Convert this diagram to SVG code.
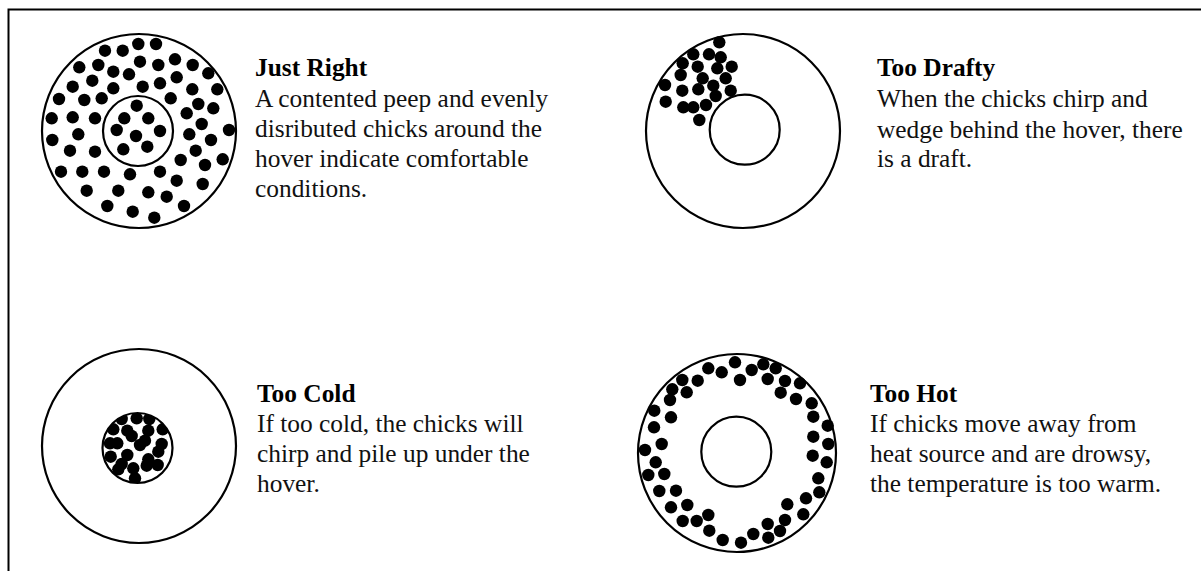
<svg xmlns="http://www.w3.org/2000/svg" width="1201" height="571" viewBox="0 0 1201 571">
<style>
.ring{fill:none;stroke:#000;stroke-width:2.2}
.dot{fill:#000}
.h{font-family:"Liberation Serif","Times New Roman",serif;font-size:25.4px;font-weight:bold;fill:#000}
.t{font-family:"Liberation Serif","Times New Roman",serif;font-size:25.4px;fill:#111}
</style>
<defs>
<clipPath id="coldclip"><circle cx="137.5" cy="448" r="35"/></clipPath>
</defs>
<rect width="1201" height="571" fill="#fff"/>
<path d="M8.5,571 V9.5 H1201" fill="none" stroke="#000" stroke-width="2"/>

<g id="just-right">
<circle class="ring" cx="139" cy="131" r="97"/>
<circle class="ring" cx="138" cy="131" r="35"/>
<g class="dot">
<circle cx="138.3" cy="44" r="6.2"/><circle cx="156" cy="44" r="6.2"/>
<circle cx="105" cy="50.7" r="6.2"/><circle cx="122.7" cy="50.7" r="6.2"/>
<circle cx="79.3" cy="67.3" r="6.2"/><circle cx="98.3" cy="65" r="6.2"/><circle cx="113.3" cy="71.7" r="6.2"/><circle cx="129" cy="74.3" r="6.2"/><circle cx="140" cy="61.7" r="6.2"/><circle cx="158.3" cy="65" r="6.2"/><circle cx="175" cy="59.3" r="6.2"/><circle cx="192.7" cy="65" r="6.2"/><circle cx="208.3" cy="73.3" r="6.2"/>
<circle cx="72.7" cy="86.7" r="6.2"/><circle cx="92.3" cy="80.7" r="6.2"/><circle cx="113.3" cy="88.3" r="6.2"/><circle cx="142.7" cy="86.7" r="6.2"/><circle cx="160" cy="83.3" r="6.2"/><circle cx="176.7" cy="77.3" r="6.2"/><circle cx="192.3" cy="89.3" r="6.2"/><circle cx="217.3" cy="89.3" r="6.2"/>
<circle cx="59" cy="99" r="6.2"/><circle cx="84.3" cy="100" r="6.2"/><circle cx="101.7" cy="98.3" r="6.2"/><circle cx="170.7" cy="98.3" r="6.2"/><circle cx="198.3" cy="104" r="6.2"/><circle cx="213.3" cy="108.3" r="6.2"/>
<circle cx="51.7" cy="118.3" r="6.2"/><circle cx="72.7" cy="117.3" r="6.2"/><circle cx="95" cy="118.3" r="6.2"/><circle cx="186.7" cy="113.3" r="6.2"/><circle cx="201.7" cy="124" r="6.2"/><circle cx="229" cy="130" r="6.2"/>
<circle cx="52.3" cy="140" r="6.2"/><circle cx="78.3" cy="134.3" r="6.2"/><circle cx="189.3" cy="134.3" r="6.2"/><circle cx="211" cy="140" r="6.2"/>
<circle cx="70" cy="150.7" r="6.2"/><circle cx="95" cy="151.7" r="6.2"/><circle cx="195.7" cy="150.7" r="6.2"/><circle cx="222.7" cy="159.3" r="6.2"/>
<circle cx="180.7" cy="160" r="6.2"/><circle cx="205" cy="165" r="6.2"/>
<circle cx="61" cy="171.7" r="6.2"/><circle cx="82.3" cy="171.7" r="6.2"/><circle cx="104" cy="171.7" r="6.2"/><circle cx="130" cy="174.3" r="6.2"/><circle cx="160" cy="171.7" r="6.2"/><circle cx="176.7" cy="180.7" r="6.2"/><circle cx="202.7" cy="184" r="6.2"/>
<circle cx="86.7" cy="190.7" r="6.2"/><circle cx="118.3" cy="190.7" r="6.2"/><circle cx="148.3" cy="192.3" r="6.2"/><circle cx="166.7" cy="196.7" r="6.2"/><circle cx="184" cy="206" r="6.2"/>
<circle cx="107.3" cy="206" r="6.2"/><circle cx="132.7" cy="211.7" r="6.2"/><circle cx="154.3" cy="217.7" r="6.2"/>
<circle cx="136.7" cy="105.7" r="6.2"/><circle cx="124.3" cy="118.3" r="6.2"/><circle cx="148.3" cy="118.3" r="6.2"/><circle cx="116.7" cy="130" r="6.2"/><circle cx="136" cy="136" r="6.2"/><circle cx="160" cy="131" r="6.2"/><circle cx="123.3" cy="149.3" r="6.2"/><circle cx="147.3" cy="146.7" r="6.2"/>
</g>
<text class="h" x="255" y="76">Just Right</text>
<text class="t" x="255" y="107">A contented peep and evenly</text>
<text class="t" x="255" y="137">disributed chicks around the</text>
<text class="t" x="255" y="167">hover indicate comfortable</text>
<text class="t" x="255" y="197">conditions.</text>
</g>

<g id="too-drafty">
<circle class="ring" cx="743" cy="131" r="97"/>
<circle class="ring" cx="744.7" cy="129.7" r="35"/>
<g class="dot">
<circle cx="719.3" cy="42.3" r="6.2"/><circle cx="693.3" cy="54.3" r="6.2"/><circle cx="709" cy="54.3" r="6.2"/><circle cx="720.7" cy="57.3" r="6.2"/><circle cx="682.7" cy="63.3" r="6.2"/><circle cx="697.7" cy="66.7" r="6.2"/><circle cx="717.3" cy="68.3" r="6.2"/><circle cx="731.7" cy="66.7" r="6.2"/><circle cx="680.7" cy="75" r="6.2"/><circle cx="702.7" cy="78.3" r="6.2"/><circle cx="725.7" cy="78.3" r="6.2"/><circle cx="665" cy="85" r="6.2"/><circle cx="682.3" cy="90.7" r="6.2"/><circle cx="698.3" cy="89.3" r="6.2"/><circle cx="713.3" cy="85.7" r="6.2"/><circle cx="730.7" cy="90.7" r="6.2"/><circle cx="715.7" cy="96" r="6.2"/><circle cx="665.7" cy="101.7" r="6.2"/><circle cx="683.3" cy="107.3" r="6.2"/><circle cx="693.3" cy="107.3" r="6.2"/><circle cx="706" cy="105" r="6.2"/><circle cx="699.3" cy="120" r="6.2"/>
</g>
<text class="h" x="877" y="76">Too Drafty</text>
<text class="t" x="877" y="107">When the chicks chirp and</text>
<text class="t" x="877" y="138">wedge behind the hover, there</text>
<text class="t" x="877" y="167">is a draft.</text>
</g>

<g id="too-cold">
<circle class="ring" cx="139" cy="446" r="97"/>
<g class="dot" clip-path="url(#coldclip)">
<circle cx="121.7" cy="419" r="6.2"/><circle cx="136.7" cy="418.3" r="6.2"/><circle cx="149.3" cy="419" r="6.2"/><circle cx="113.3" cy="429.3" r="6.2"/><circle cx="127.3" cy="430.7" r="6.2"/><circle cx="148.3" cy="430.7" r="6.2"/><circle cx="162.7" cy="429.3" r="6.2"/><circle cx="131.7" cy="436" r="6.2"/><circle cx="110" cy="443.3" r="6.2"/><circle cx="117.3" cy="443.3" r="6.2"/><circle cx="140" cy="445" r="6.2"/><circle cx="145" cy="440.7" r="6.2"/><circle cx="161.7" cy="444" r="6.2"/><circle cx="158.3" cy="451.7" r="6.2"/><circle cx="127.3" cy="455" r="6.2"/><circle cx="110.7" cy="456.7" r="6.2"/><circle cx="148.3" cy="459.3" r="6.2"/><circle cx="121.7" cy="464" r="6.2"/><circle cx="118.3" cy="469.3" r="6.2"/><circle cx="133.3" cy="468.3" r="6.2"/><circle cx="146.7" cy="465.7" r="6.2"/><circle cx="157.7" cy="465" r="6.2"/><circle cx="135" cy="478.3" r="6.2"/>
</g>
<circle class="ring" cx="137.5" cy="448" r="35"/>
<text class="h" x="257" y="402">Too Cold</text>
<text class="t" x="257" y="432">If too cold, the chicks will</text>
<text class="t" x="257" y="462">chirp and pile up under the</text>
<text class="t" x="257" y="492">hover.</text>
</g>

<g id="too-hot">
<circle class="ring" cx="737" cy="453" r="99"/>
<circle class="ring" cx="736.3" cy="451.7" r="35"/>
<g class="dot">
<circle cx="735" cy="362.3" r="6.2"/><circle cx="708.3" cy="368.3" r="6.2"/><circle cx="721.7" cy="372.3" r="6.2"/><circle cx="751.7" cy="370" r="6.2"/><circle cx="763.3" cy="364.3" r="6.2"/><circle cx="775.7" cy="368.3" r="6.2"/><circle cx="740" cy="380" r="6.2"/><circle cx="767.7" cy="379" r="6.2"/><circle cx="785" cy="381" r="6.2"/><circle cx="800" cy="383.3" r="6.2"/><circle cx="682.3" cy="380" r="6.2"/><circle cx="697.7" cy="380.7" r="6.2"/><circle cx="672.3" cy="389.3" r="6.2"/><circle cx="686.7" cy="392.3" r="6.2"/><circle cx="780.7" cy="392.7" r="6.2"/><circle cx="796" cy="399" r="6.2"/><circle cx="670" cy="400" r="6.2"/><circle cx="811.7" cy="403.3" r="6.2"/><circle cx="654.3" cy="410.7" r="6.2"/><circle cx="671" cy="417.3" r="6.2"/><circle cx="813.3" cy="416.7" r="6.2"/><circle cx="654" cy="427.3" r="6.2"/><circle cx="827.7" cy="425.7" r="6.2"/><circle cx="661.7" cy="444" r="6.2"/><circle cx="813.3" cy="436.7" r="6.2"/><circle cx="645" cy="450" r="6.2"/><circle cx="828.3" cy="444" r="6.2"/><circle cx="655.7" cy="462.3" r="6.2"/><circle cx="812.7" cy="455.7" r="6.2"/><circle cx="826.7" cy="462.3" r="6.2"/><circle cx="648.3" cy="475" r="6.2"/><circle cx="664.3" cy="474" r="6.2"/><circle cx="818.3" cy="478.3" r="6.2"/><circle cx="659.3" cy="491" r="6.2"/><circle cx="676" cy="490.7" r="6.2"/><circle cx="819.3" cy="492.3" r="6.2"/><circle cx="806" cy="498.3" r="6.2"/><circle cx="671" cy="507.3" r="6.2"/><circle cx="687.3" cy="505" r="6.2"/><circle cx="787.3" cy="504.3" r="6.2"/><circle cx="803.3" cy="514.3" r="6.2"/><circle cx="708.3" cy="515" r="6.2"/><circle cx="682.7" cy="521" r="6.2"/><circle cx="696.7" cy="521" r="6.2"/><circle cx="785" cy="520" r="6.2"/><circle cx="709.3" cy="530.7" r="6.2"/><circle cx="767.7" cy="524" r="6.2"/><circle cx="780" cy="531" r="6.2"/><circle cx="722.7" cy="540" r="6.2"/><circle cx="741" cy="542.7" r="6.2"/><circle cx="753.3" cy="534" r="6.2"/><circle cx="768.3" cy="537.7" r="6.2"/>
</g>
<text class="h" x="870" y="402">Too Hot</text>
<text class="t" x="870" y="432">If chicks move away from</text>
<text class="t" x="870" y="462">heat source and are drowsy,</text>
<text class="t" x="870" y="492">the temperature is too warm.</text>
</g>
</svg>
